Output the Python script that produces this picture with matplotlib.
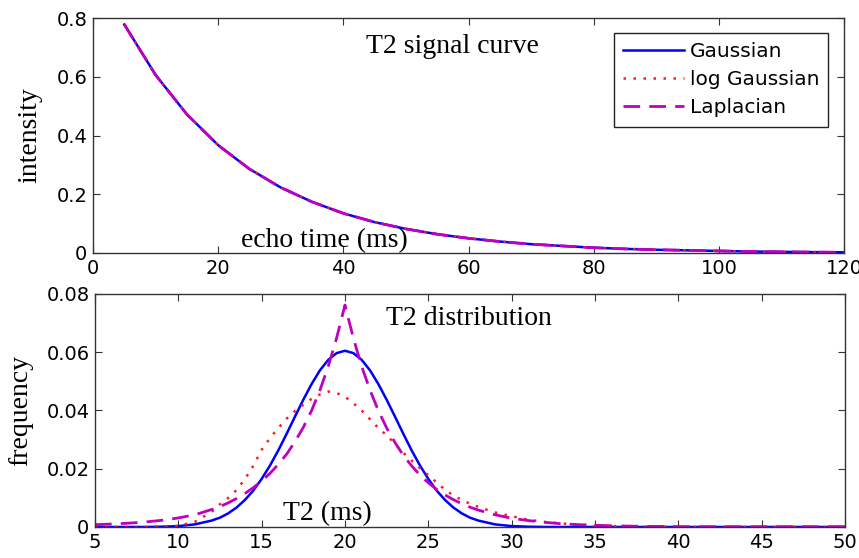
from matplotlib import pyplot as plt
import numpy as np

# Top panel: T2 signal curve (the three fits overlap)
ECHO_TIME = [5, 10, 15, 20, 25, 30, 35, 40, 45, 50, 55, 60, 65, 70, 75, 80,
             85, 90, 95, 100, 105, 110, 115, 120]
SIGNAL = [0.778, 0.606, 0.472, 0.367, 0.286, 0.223, 0.174, 0.135, 0.105,
          0.082, 0.064, 0.050, 0.039, 0.030, 0.024, 0.018, 0.014, 0.011,
          0.009, 0.007, 0.005, 0.004, 0.003, 0.0025]

# Bottom panel: T2 distributions
T2 = list(range(5, 13)) + [12.5 + 0.5 * i for i in range(32)] + list(range(29, 51))

GAUSS = [0, 0, 0, 0, 0.0001, 0.0003, 0.0009, 0.0022,
         0.0032, 0.0047, 0.0067, 0.0093, 0.0125, 0.0165, 0.0211, 0.0263,
         0.0320, 0.0379, 0.0437, 0.0491, 0.0538, 0.0574, 0.0597, 0.0605,
         0.0597, 0.0574, 0.0538, 0.0491, 0.0437, 0.0379, 0.0320, 0.0263,
         0.0211, 0.0165, 0.0125, 0.0093, 0.0067, 0.0047, 0.0032, 0.0022,
         0.0009, 0.0003, 0.0001, 0, 0, 0, 0, 0, 0, 0, 0,
         0, 0, 0, 0, 0, 0, 0, 0, 0, 0, 0]

LOG_GAUSS = [0, 0, 0, 0, 0.0001, 0.0004, 0.0018, 0.0052,
             0.0078, 0.0100, 0.0127, 0.0165, 0.0210, 0.0265, 0.0305, 0.0340,
             0.0372, 0.0398, 0.0420, 0.0440, 0.0455, 0.0465, 0.0460, 0.0447,
             0.0425, 0.0400, 0.0370, 0.0340, 0.0315, 0.0285, 0.0255, 0.0228,
             0.0202, 0.0178, 0.0153, 0.0128, 0.0108, 0.0093, 0.0080, 0.0069,
             0.0050, 0.0037, 0.0025, 0.0017, 0.0012, 0.0008, 0.0005, 0.0003,
             0.0002, 0.0001, 0.0001, 0, 0, 0, 0, 0, 0, 0, 0, 0, 0, 0]

LAPLACE = [0.0008, 0.0010, 0.0013, 0.0017, 0.0023, 0.0031, 0.0042, 0.0060,
           0.0070, 0.0083, 0.0098, 0.0115, 0.0135, 0.0158, 0.0184, 0.0215,
           0.0250, 0.0293, 0.0342, 0.0400, 0.0470, 0.0552, 0.0649, 0.0762,
           0.0649, 0.0552, 0.0470, 0.0400, 0.0340, 0.0290, 0.0246, 0.0210,
           0.0178, 0.0152, 0.0129, 0.0110, 0.0094, 0.0080, 0.0068, 0.0058,
           0.0042, 0.0030, 0.0022, 0.0016, 0.0011, 0.0008, 0.0006, 0.0004,
           0.0003, 0.0002, 0.0002, 0.0001, 0.0001, 0.0001, 0.0001, 0.0001,
           0.0001, 0.0001, 0.0001, 0.0001, 0.0001, 0.0001]

LABELS = ['Gaussian', 'log Gaussian', 'Laplacian']
BLUE = '#0000ff'
RED = '#ff1a1a'
MAGENTA = '#bf00bf'

SERIF = 'Liberation Serif'
TICK_FS = 14
SERIF_FS = 20

plt.rcParams['font.family'] = 'DejaVu Sans'

fig = plt.figure(figsize=(8.59, 5.58), dpi=100)
ax1 = fig.add_axes([0.1083, 0.5466, 0.8743, 0.4211])
ax2 = fig.add_axes([0.1106, 0.0556, 0.8730, 0.4176])


def style_axes(ax):
  ax.tick_params(direction='in', length=5, width=0.8, top=True, right=True,
                 labelsize=TICK_FS, pad=4, color='#333333')
  for s in ax.spines.values():
    s.set_linewidth(1.0)
    s.set_color('#333333')


# top panel
ax1.plot(ECHO_TIME, SIGNAL, color=BLUE, lw=1.8, label=LABELS[0])
ax1.plot(ECHO_TIME, SIGNAL, color=RED, lw=1.8, linestyle=(0, (1, 3)), label=LABELS[1])
ax1.plot(ECHO_TIME, SIGNAL, color=MAGENTA, lw=2.0, dashes=(6, 3.3), label=LABELS[2])
ax1.set_xlim(0, 120)
ax1.set_ylim(0, 0.8)
ax1.set_xticks(range(0, 121, 20))
ax1.set_yticks([0, 0.2, 0.4, 0.6, 0.8])
ax1.set_yticklabels(['0', '0.2', '0.4', '0.6', '0.8'])
style_axes(ax1)
ax1.set_ylabel('intensity', family=SERIF, fontsize=SERIF_FS)
ax1.yaxis.set_label_coords(-0.068, 0.5)
ax1.text(43.6, 0.681, 'T2 signal curve', family=SERIF, fontsize=SERIF_FS,
         ha='left', va='baseline')
ax1.text(23.6, 0.021, 'echo time (ms)', family=SERIF, fontsize=SERIF_FS,
         ha='left', va='baseline')

leg = ax1.legend(loc='upper right', bbox_to_anchor=(0.979, 0.935),
                 borderaxespad=0, fontsize=14.5, handlelength=3.0,
                 labelspacing=0.45, handletextpad=0.3, borderpad=0.45,
                 fancybox=False, framealpha=1)
leg.get_frame().set_edgecolor('#222222')
leg.get_frame().set_linewidth(1.0)

# bottom panel
ax2.plot(T2, GAUSS, color=BLUE, lw=1.8)
ax2.plot(T2, LOG_GAUSS, color=RED, lw=1.8, linestyle=(0, (1, 3)))
ax2.plot(T2, LAPLACE, color=MAGENTA, lw=2.0, dashes=(6, 3.3))
ax2.set_xlim(5, 50)
ax2.set_ylim(0, 0.08)
ax2.set_xticks(range(5, 51, 5))
ax2.set_yticks([0, 0.02, 0.04, 0.06, 0.08])
ax2.set_yticklabels(['0', '0.02', '0.04', '0.06', '0.08'])
style_axes(ax2)
ax2.set_ylabel('frequency', family=SERIF, fontsize=SERIF_FS)
ax2.yaxis.set_label_coords(-0.083, 0.5)
ax2.text(22.46, 0.0694, 'T2 distribution', family=SERIF, fontsize=SERIF_FS,
         ha='left', va='baseline')
ax2.text(16.3, 0.0024, 'T2 (ms)', family=SERIF, fontsize=SERIF_FS,
         ha='left', va='baseline')

fig.savefig('out.png', dpi=100)
